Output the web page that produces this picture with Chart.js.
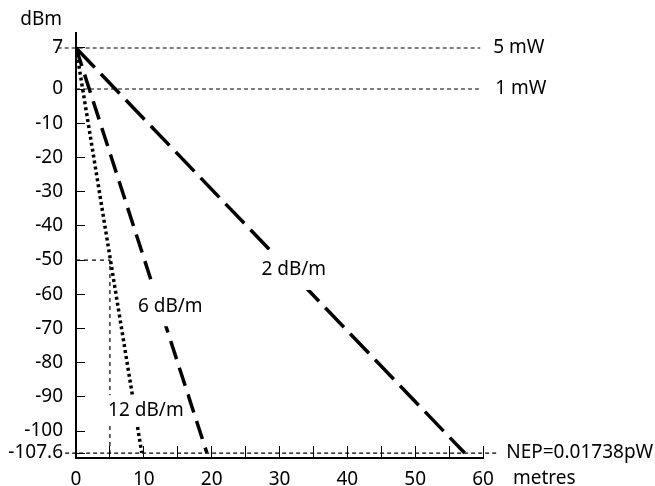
<!DOCTYPE html>
<html>
<head>
<meta charset="utf-8">
<script src="https://cdn.jsdelivr.net/npm/chart.js@4.4.1/dist/chart.umd.min.js"></script>
<style>
  html, body { margin: 0; padding: 0; background: #fff; }
  #wrap { width: 655px; height: 486px; }
</style>
</head>
<body>
<div id="wrap"><canvas id="chart" width="655" height="486"></canvas></div>
<script>
// attenuation lines, all starting at 7 dBm (5 mW)
const slopeLabels = ['2 dB/m', '6 dB/m', '12 dB/m']
const startDistance = [0, 0, 0]
const startLevel = [7, 7, 7]
const endDistance = [57.3, 19.3, 9.7]
const endLevel = [-107.6, -107.6, -107.6]

// horizontal reference levels
const refLevels = [7, 0, -107.6]
const refLabels = ['5 mW', '1 mW', 'NEP=0.01738pW']
const refFrom = [-2.7, 0, -1.6]
const refTo = [59.6, 59.6, 62.1]

// the -50 dBm / 5 m marker
const markerDistance = 5
const markerLevel = -50

const yTicks = [7, 0, -10, -20, -30, -40, -50, -60, -70, -80, -90, -100, -107.6]
const xTicks = [0, 5, 10, 15, 20, 25, 30, 35, 40, 45, 50, 55, 60]
const xTickLabels = ['0', '', '10', '', '20', '', '30', '', '40', '', '50', '', '60']

const yMin = -109.3
const yMax = 9.56
const FONT = '"Noto Sans", "DejaVu Sans", sans-serif'
const SIZE = 19

// the original axis is drawn schematically: the top band (0..7) is stretched
// and the bottom band (below -100) squeezed, so use a piecewise linear scale
class StretchedScale extends Chart.LinearScale {
  stretch(v) {
    const o = this.options.stretch
    if (v >= 0) return v * o.above
    if (v >= o.knee) return v
    return o.knee + (v - o.knee) * o.below
  }
  unstretch(s) {
    const o = this.options.stretch
    if (s >= 0) return s / o.above
    if (s >= o.knee) return s
    return o.knee + (s - o.knee) / o.below
  }
  getPixelForValue(value) {
    const a = this.stretch(this.min)
    const b = this.stretch(this.max)
    return this.getPixelForDecimal((this.stretch(value) - a) / (b - a))
  }
  getValueForPixel(pixel) {
    const a = this.stretch(this.min)
    const b = this.stretch(this.max)
    return this.unstretch(a + this.getDecimalForPixel(pixel) * (b - a))
  }
}
StretchedScale.id = 'stretched'
StretchedScale.defaults = Chart.LinearScale.defaults
Chart.register(StretchedScale)

const slopeStyles = [
  { dash: [27, 9] },
  { dash: [19, 9] },
  { dash: [3, 3] },
]

const datasets = []
slopeLabels.forEach((label, i) => {
  datasets.push({
    label: label,
    data: [
      { x: startDistance[i], y: startLevel[i] },
      { x: endDistance[i], y: endLevel[i] },
    ],
    borderColor: '#000',
    borderWidth: 3.5,
    borderDash: slopeStyles[i].dash,
    borderCapStyle: 'butt',
  })
})
refLevels.forEach((level, i) => {
  datasets.push({
    label: refLabels[i],
    data: [
      { x: refFrom[i], y: level },
      { x: refTo[i], y: level },
    ],
    borderColor: '#000',
    borderWidth: 1.2,
    borderDash: [4, 3],
    clip: false,
  })
})
datasets.push({
  label: 'marker',
  data: [
    { x: 0, y: markerLevel },
    { x: markerDistance, y: markerLevel },
    { x: markerDistance, y: yMin },
  ],
  borderColor: '#000',
  borderWidth: 1.2,
  borderDash: [4, 4],
})

// zero the label overflow padding so the axis sizes stay as set
const fixPadding = s => {
  s.paddingTop = 0
  s.paddingBottom = 0
  s.paddingLeft = 0
  s.paddingRight = 0
}

// text labels: line names on white boxes, right-hand level names, axis units
const annotations = {
  id: 'annotations',
  afterDatasetsDraw(chart, args, opts) {
    const { ctx, scales: { x, y } } = chart
    ctx.save()
    ctx.font = SIZE + 'px ' + FONT
    ctx.fillStyle = '#000'
    ctx.textBaseline = 'middle'
    ctx.textAlign = 'center'
    opts.lineLabelAt.forEach((p, i) => {
      const px = x.getPixelForValue(p.x)
      const py = y.getPixelForValue(p.y)
      const w = ctx.measureText(slopeLabels[i]).width + 6
      const h = opts.boxHeight[i]
      ctx.fillStyle = '#fff'
      ctx.fillRect(px - w / 2, py - h / 2, w, h)
      ctx.fillStyle = '#000'
      ctx.fillText(slopeLabels[i], px, py)
    })
    ctx.textAlign = 'left'
    refLevels.forEach((level, i) => {
      ctx.fillText(refLabels[i], x.getPixelForValue(refTo[i]) + opts.refGap[i], y.getPixelForValue(level))
    })
    ctx.fillText('metres', x.right + 30, 479)
    ctx.textAlign = 'right'
    ctx.fillText('dBm', 62, 20)
    ctx.restore()
  },
}

new Chart(document.getElementById('chart'), {
  type: 'line',
  data: { datasets: datasets },
  options: {
    responsive: false,
    animation: false,
    layout: { padding: { top: 33, right: 172, left: 0, bottom: 0 } },
    elements: { point: { radius: 0 }, line: { tension: 0 } },
    plugins: {
      legend: { display: false },
      tooltip: { enabled: false },
      annotations: {
        lineLabelAt: [
          { x: 32.1, y: -52.9 },
          { x: 13.9, y: -63.5 },
          { x: 10.3, y: -93.9 },
        ],
        boxHeight: [40, 40, 30],
        refGap: [13, 15, 9],
      },
    },
    scales: {
      x: {
        type: 'linear',
        min: 0,
        max: 60,
        afterFit: s => { s.height = 28; fixPadding(s) },
        afterBuildTicks: s => { s.ticks = xTicks.map(v => ({ value: v })) },
        border: { color: '#000', width: 2 },
        grid: { drawOnChartArea: false, tickLength: -12, tickColor: '#000', tickWidth: 1 },
        ticks: {
          padding: 22,
          color: '#000',
          font: { family: FONT, size: SIZE },
          maxRotation: 0,
          autoSkip: false,
          callback: (v, i) => xTickLabels[i],
        },
      },
      y: {
        type: 'stretched',
        min: yMin,
        max: yMax,
        stretch: { above: 1.7127, knee: -100, below: 0.8464 },
        afterFit: s => { s.width = 76; fixPadding(s) },
        afterBuildTicks: s => { s.ticks = yTicks.map(v => ({ value: v })) },
        border: { color: '#000', width: 2 },
        grid: { drawOnChartArea: false, tickLength: -9, tickColor: '#000', tickWidth: 1 },
        ticks: {
          padding: 22,
          color: '#000',
          font: { family: FONT, size: SIZE },
          autoSkip: false,
          callback: v => String(v),
        },
      },
    },
  },
  plugins: [annotations],
})
</script>
</body>
</html>
